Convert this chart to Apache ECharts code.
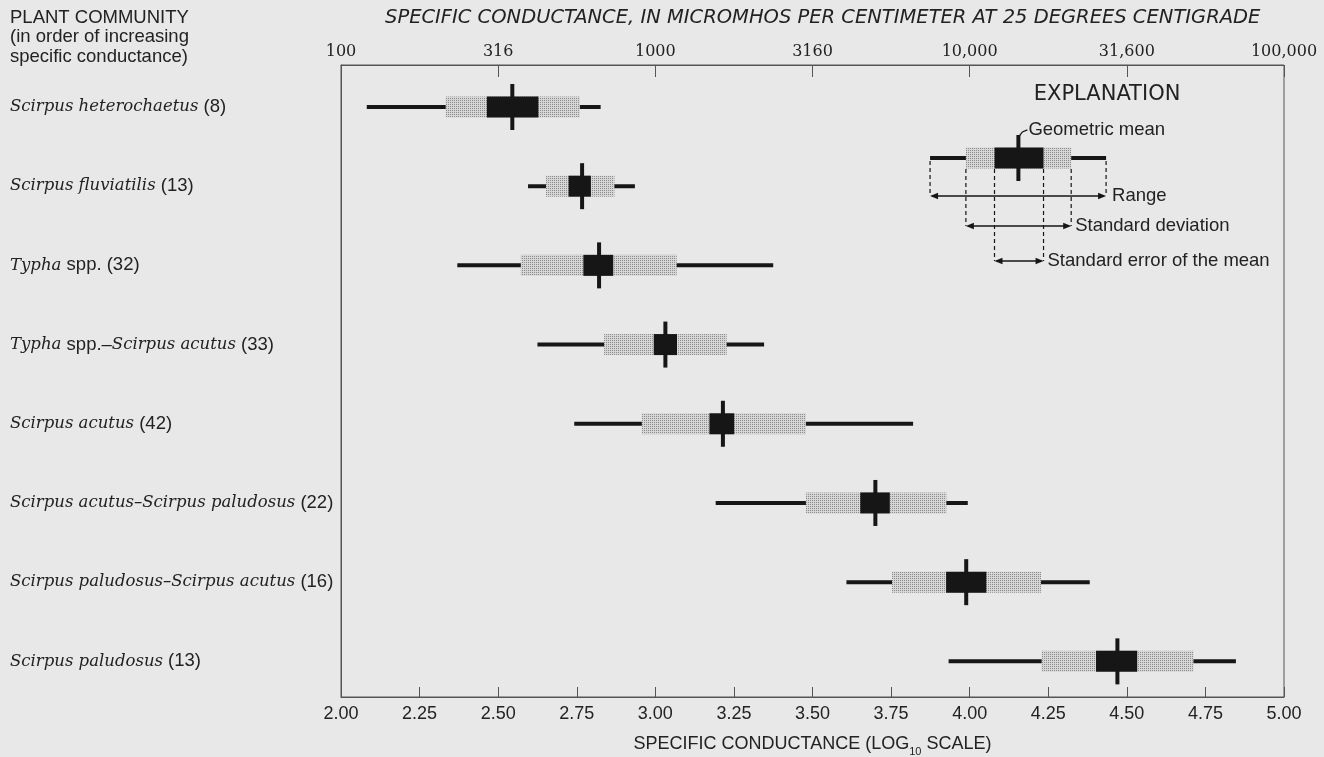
<!DOCTYPE html>
<html><head><meta charset="utf-8">
<script src="https://cdn.jsdelivr.net/npm/echarts@6/dist/echarts.min.js"></script>
<style>html,body{margin:0;padding:0;background:#e8e8e8}#c{width:1324px;height:757px}</style>
</head><body><div id="c"></div>
<script>
// ---- data (log10 of specific conductance) ----
const communities = ['Scirpus heterochaetus','Scirpus fluviatilis','Typha spp.','Typha spp.–Scirpus acutus','Scirpus acutus','Scirpus acutus–Scirpus paludosus','Scirpus paludosus–Scirpus acutus','Scirpus paludosus'];
const sampleCounts = [8,13,32,33,42,22,16,13];
const rangeMin      = [2.082,2.595,2.370,2.625,2.742,3.192,3.608,3.933];
const stdDevLow     = [2.333,2.652,2.572,2.837,2.957,3.479,3.753,4.229];
const stdErrLow     = [2.464,2.724,2.771,2.995,3.172,3.652,3.925,4.402];
const geometricMean = [2.545,2.767,2.821,3.032,3.215,3.700,3.989,4.470];
const stdErrHigh    = [2.628,2.795,2.866,3.069,3.251,3.746,4.053,4.533];
const stdDevHigh    = [2.760,2.870,3.068,3.227,3.479,3.926,4.227,4.712];
const rangeMax      = [2.826,2.935,3.375,3.346,3.820,3.994,4.382,4.847];
const log10Ticks = [2.0,2.5,3.0,3.5,4.0,4.5,5.0];
const conductanceTickLabels = ['100','316','1000','3160','10,000','31,600','100,000'];
// explanation key: range min, sd low, se low, mean, se high, sd high, range max
const explanationKey = [3.874,3.988,4.079,4.155,4.235,4.323,4.434];
const explanationRow = 0.644;

// ---- styling ----
const INK = '#161616';
const TEXT = '#222';
const FRAME = '#555';
const pc = document.createElement('canvas');
pc.width = 2; pc.height = 2;
const pctx = pc.getContext('2d');
pctx.fillStyle = '#d6d6d6'; pctx.fillRect(0,0,2,2);
pctx.fillStyle = '#8c8c8c'; pctx.fillRect(0,0,1,1);
const SHADE = {image: pc, repeat: 'repeat'};
const BOX_H = 21, LINE_W = 4, MEAN_W = 4, MEAN_UP = 23, MEAN_DOWN = 23;

function boxParts(api) {
  const row = api.value(0);
  const xs = [1,2,3,4,5,6,7].map(k => api.coord([api.value(k), row])[0]);
  const y = api.coord([api.value(1), row])[1];
  const [xr0,xsd0,xse0,xm,xse1,xsd1,xr1] = xs;
  return {xs, y, children: [
    {type:'rect', shape:{x:xr0, y:y-LINE_W/2, width:xr1-xr0, height:LINE_W}, style:{fill:INK}},
    {type:'rect', shape:{x:xsd0, y:y-BOX_H/2, width:xsd1-xsd0, height:BOX_H}, style:{fill:SHADE}},
    {type:'rect', shape:{x:xse0, y:y-BOX_H/2, width:xse1-xse0, height:BOX_H}, style:{fill:INK}},
    {type:'rect', shape:{x:xm-MEAN_W/2, y:y-MEAN_UP, width:MEAN_W, height:MEAN_UP+MEAN_DOWN}, style:{fill:INK}}
  ]};
}
function renderBox(params, api) {
  return {type:'group', children: boxParts(api).children};
}
function arrow(x1, x2, y) {
  const h = 8, w = 3.2;
  return [
    {type:'line', shape:{x1:x1+2, y1:y, x2:x2-2, y2:y}, style:{stroke:INK, lineWidth:1.3}},
    {type:'polygon', shape:{points:[[x1,y],[x1+h,y-w],[x1+h,y+w]]}, style:{fill:INK}},
    {type:'polygon', shape:{points:[[x2,y],[x2-h,y-w],[x2-h,y+w]]}, style:{fill:INK}}
  ];
}
function dashed(x, y1, y2) {
  return {type:'line', shape:{x1:x, y1:y1, x2:x, y2:y2}, style:{stroke:INK, lineWidth:1.2, lineDash:[4,3]}};
}
function label(text, x, y, font, align) {
  return {type:'text', x:x, y:y, style:{text:text, fill:TEXT, font: font, textAlign: align || 'left', textVerticalAlign:'middle'}};
}
function renderKey(params, api) {
  const p = boxParts(api);
  const [xr0,xsd0,xse0,xm,xse1,xsd1,xr1] = p.xs;
  const y = p.y;
  const f = '18.5px "Liberation Sans", sans-serif';
  const ch = p.children.slice();
  ch.push(dashed(xr0, y+3, y+38), dashed(xr1, y+3, y+38));
  ch.push(dashed(xsd0, y+11, y+68), dashed(xsd1, y+11, y+68));
  ch.push(dashed(xse0, y+11, y+103), dashed(xse1, y+11, y+103));
  ch.push(...arrow(xr0, xr1, y+38), ...arrow(xsd0, xsd1, y+68), ...arrow(xse0, xse1, y+103));
  ch.push(label('Range', xr1+6, y+38, f));
  ch.push(label('Standard deviation', xsd1+4, y+68, f));
  ch.push(label('Standard error of the mean', xse1+4, y+103, f));
  ch.push({type:'polyline', shape:{points:[[xm+1,y-22],[xm+4,y-26],[xm+9,y-28]]}, style:{stroke:INK, lineWidth:1.3, fill:null}});
  ch.push(label('Geometric mean', xm+10, y-28, f));
  ch.push(label('EXPLANATION', xr1+1, y-63, '21px "DejaVu Sans", sans-serif', 'center'));
  return {type:'group', children: ch};
}

function formatCommunity(name) {
  return name.split(/(spp\.–?)/).filter(s => s.length).map(s =>
    /^spp\./.test(s) ? '{n|' + s + '}' : '{i|' + s + '}').join('');
}

const rowData = communities.map((_, i) => [i, rangeMin[i], stdDevLow[i], stdErrLow[i], geometricMean[i], stdErrHigh[i], stdDevHigh[i], rangeMax[i]]);
const keyData = [[explanationRow].concat(explanationKey)];

const chart = echarts.init(document.getElementById('c'), null, {renderer:'canvas'});
chart.setOption({
  backgroundColor: '#e8e8e8',
  animation: false,
  title: [
    {text:'PLANT COMMUNITY\n(in order of increasing\nspecific conductance)', left:10, top:8, padding:0,
     textStyle:{fontFamily:'Liberation Sans', fontSize:18.5, fontWeight:'normal', color:TEXT, lineHeight:19.5}},
    {text:'SPECIFIC CONDUCTANCE, IN MICROMHOS PER CENTIMETER AT 25 DEGREES CENTIGRADE', left:385, top:8, padding:0,
     textStyle:{fontFamily:'DejaVu Sans', fontStyle:'italic', fontSize:19.5, fontWeight:'normal', color:TEXT}}
  ],
  grid: {left:341, right:40, top:65, bottom:60, outerBoundsMode:'none', containLabel:false, show:true, borderColor:FRAME, borderWidth:1, backgroundColor:'transparent'},
  xAxis: [
    {type:'value', position:'bottom', min:2, max:5, interval:0.25,
     name:'{a|SPECIFIC CONDUCTANCE (LOG}{s|10}{a| SCALE)}', nameLocation:'middle', nameGap:38,
     nameTextStyle:{rich:{
       a:{fontFamily:'Liberation Sans', fontSize:18, fontWeight:'normal', color:TEXT, verticalAlign:'bottom', lineHeight:18},
       s:{fontFamily:'Liberation Sans', fontSize:11, fontWeight:'normal', color:TEXT, verticalAlign:'bottom', lineHeight:10, padding:[0,0,-4,0]}
     }},
     axisLine:{show:true, onZero:false, lineStyle:{color:FRAME, width:1}},
     axisTick:{show:true, inside:true, length:10, lineStyle:{color:FRAME}},
     splitLine:{show:false},
     axisLabel:{showMinLabel:true, showMaxLabel:true, margin:8, fontFamily:'Liberation Sans', fontSize:18, color:TEXT,
       formatter: v => v.toFixed(2)}},
    {type:'value', position:'top', min:2, max:5, interval:0.5,
     axisLine:{show:true, onZero:false, lineStyle:{color:FRAME, width:1}},
     axisTick:{show:true, inside:true, length:12, lineStyle:{color:FRAME}},
     splitLine:{show:false},
     axisLabel:{showMinLabel:true, showMaxLabel:true, margin:5, fontFamily:'DejaVu Serif', fontSize:16, color:TEXT,
       formatter: v => { const k = log10Ticks.findIndex(t => Math.abs(t - v) < 1e-6); return k >= 0 ? conductanceTickLabels[k] : ''; }}}
  ],
  yAxis: {type:'value', inverse:true, min:-0.53, max:7.45,
    axisLine:{show:true, onZero:false, lineStyle:{color:FRAME, width:1}},
    axisTick:{show:false}, splitLine:{show:false},
    axisLabel:{customValues:[0,1,2,3,4,5,6,7], align:'left', margin:331,
      formatter: v => { const i = Math.round(v); return formatCommunity(communities[i]) + '{n| (' + sampleCounts[i] + ')}'; },
      rich:{
        i:{fontFamily:'DejaVu Serif', fontStyle:'italic', fontSize:16.5, color:TEXT},
        n:{fontFamily:'Liberation Sans', fontSize:18.5, color:TEXT}
      }}},
  series: [
    {type:'custom', name:'communities', renderItem:renderBox, data:rowData, encode:{x:[1,2,3,4,5,6,7], y:0}, clip:false},
    {type:'custom', name:'explanation', renderItem:renderKey, data:keyData, encode:{x:[1,2,3,4,5,6,7], y:0}, clip:false, silent:true}
  ]
});
</script></body></html>
